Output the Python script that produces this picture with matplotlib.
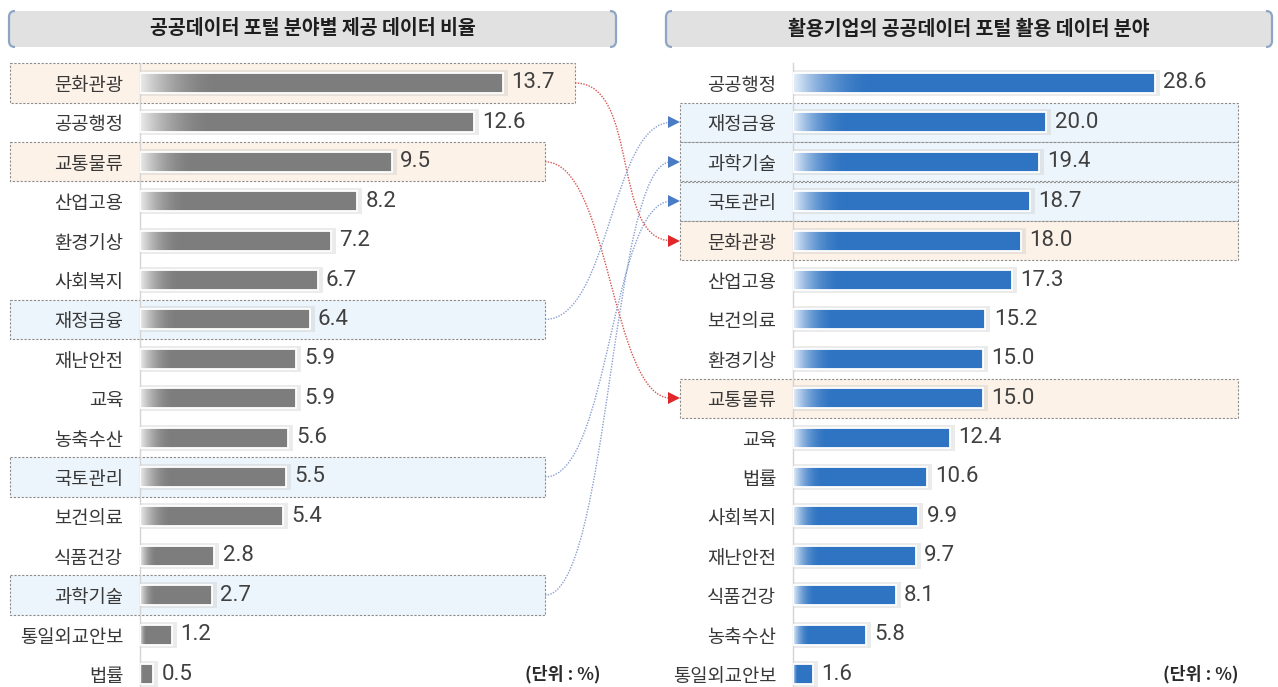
import numpy as np
import matplotlib
matplotlib.use('Agg')
import matplotlib.pyplot as plt
from matplotlib.patches import Rectangle, FancyBboxPatch, PathPatch
from matplotlib.path import Path
from matplotlib.colors import to_rgb

plt.rcParams['font.family'] = ['Noto Sans CJK KR', 'DejaVu Sans']

# ---------------- data ----------------
left_title = '공공데이터 포털 분야별 제공 데이터 비율'
right_title = '활용기업의 공공데이터 포털 활용 데이터 분야'
left_cats = ['문화관광', '공공행정', '교통물류', '산업고용', '환경기상', '사회복지', '재정금융', '재난안전',
             '교육', '농축수산', '국토관리', '보건의료', '식품건강', '과학기술', '통일외교안보', '법률']
left_vals = [13.7, 12.6, 9.5, 8.2, 7.2, 6.7, 6.4, 5.9, 5.9, 5.6, 5.5, 5.4, 2.8, 2.7, 1.2, 0.5]
right_cats = ['공공행정', '재정금융', '과학기술', '국토관리', '문화관광', '산업고용', '보건의료', '환경기상',
              '교통물류', '교육', '법률', '사회복지', '재난안전', '식품건강', '농축수산', '통일외교안보']
right_vals = [28.6, 20.0, 19.4, 18.7, 18.0, 17.3, 15.2, 15.0, 15.0, 12.4, 10.6, 9.9, 9.7, 8.1, 5.8, 1.6]
warm_cats = ['문화관광', '교통물류']
cool_cats = ['재정금융', '과학기술', '국토관리']
unit_label = '(단위 : %)'

# ---------------- layout ----------------
W, H = 1278, 687
PITCH = 39.4
TOP = 83 - PITCH / 2

fig = plt.figure(figsize=(W / 100, H / 100), dpi=100)
ov = fig.add_axes([0, 0, 1, 1], zorder=0)
ov.set_xlim(0, W)
ov.set_ylim(H, 0)
ov.axis('off')

VAL_FONT = ['Roboto', 'DejaVu Sans']


def make_axes(x0, w):
    ax = fig.add_axes([x0 / W, 0, w / W, (H - TOP) / H], zorder=1)
    ax.set_facecolor('none')
    for s in ['top', 'right', 'bottom']:
        ax.spines[s].set_visible(False)
    ax.spines['left'].set_color('#d4d4d4')
    ax.spines['left'].set_linewidth(1.0)
    ax.set_xticks([])
    return ax


def draw_bars(ax, cats, vals, color, start_color, ppu, w):
    y = np.arange(len(cats))
    ax.barh(y, [v + 6 / ppu for v in vals], height=0.66, left=-1 / ppu,
            color='#bdbdbd', alpha=0.3, zorder=1, linewidth=0)
    bars = ax.barh(y, vals, height=0.51, color=color, linewidth=0, zorder=2)
    c1 = np.array(to_rgb(color))
    c0 = np.array(to_rgb(start_color))
    t = np.linspace(0, 1, 256)[:, None]
    t = 1 - (1 - t) ** 2
    grad = (c0 * (1 - t) + c1 * t)[None, :, :]
    for b, v in zip(bars, vals):
        gw = 0.22 * v
        im = ax.imshow(grad, extent=(0, gw, b.get_y() + b.get_height(), b.get_y()),
                       aspect='auto', zorder=3, interpolation='bilinear')
        im.set_clip_path(b)
    ax.barh(y, vals, height=0.51, facecolor='none', edgecolor='white',
            linewidth=1.3, zorder=4)
    for i, v in enumerate(vals):
        ax.annotate(f'{v:.1f}', xy=(v, i), xytext=(6, 0), textcoords='offset points',
                    va='center', ha='left', fontsize=16, color='#404040',
                    family=VAL_FONT, zorder=5)
    ax.set_yticks(y, cats)
    ax.tick_params(axis='y', length=0, pad=12, labelsize=13.5, labelcolor='#383838')
    ax.set_xlim(0, w / ppu)
    ax.set_ylim(-0.5 + (H - TOP) / PITCH, -0.5)


L_PPU, R_PPU = 26.5, 12.66
axL = make_axes(140, 500)
axR = make_axes(793, 485)
draw_bars(axL, left_cats, left_vals, '#7d7d7d', '#ececec', L_PPU, 500)
draw_bars(axR, right_cats, right_vals, '#2f74c2', '#e8f0fa', R_PPU, 485)


def px(ax, x, y):
    dx, dy = ax.transData.transform((x, y))
    return dx, H - dy


WARM_FC, COOL_FC = '#fdf2e8', '#edf5fc'
WARM_LC, COOL_LC = '#d9534f', '#8a9fd0'
WARM_HC, COOL_HC = '#e0282a', '#4a7cc6'

# highlight boxes (left)
left_ends = {}
for i, (c, v) in enumerate(zip(left_cats, left_vals)):
    if c in warm_cats or c in cool_cats:
        endx, yc = px(axL, v, i)
        xr = max(545, endx + 72)
        left_ends[c] = (xr, yc)
        fc = WARM_FC if c in warm_cats else COOL_FC
        ov.add_patch(Rectangle((10, yc - PITCH / 2), xr - 10, PITCH, facecolor=fc,
                               edgecolor='#8c8c8c', linewidth=0.8, linestyle=(0, (2, 1.5))))
right_starts = {}
for i, (c, v) in enumerate(zip(right_cats, right_vals)):
    if c in warm_cats or c in cool_cats:
        _, yc = px(axR, v, i)
        right_starts[c] = (680, yc)
        fc = WARM_FC if c in warm_cats else COOL_FC
        ov.add_patch(Rectangle((680, yc - PITCH / 2), 1238 - 680, PITCH, facecolor=fc,
                               edgecolor='#8c8c8c', linewidth=0.8, linestyle=(0, (2, 1.5))))

# connector arrows
for c in warm_cats + cool_cats:
    x0, y0 = left_ends[c]
    x1, y1 = right_starts[c]
    lc = WARM_LC if c in warm_cats else COOL_LC
    hc = WARM_HC if c in warm_cats else COOL_HC
    xe = x1 - 9
    path = Path([(x0, y0), (x0 + 65, y0), (xe - 60, y1), (xe, y1)],
                [Path.MOVETO, Path.CURVE4, Path.CURVE4, Path.CURVE4])
    ov.add_patch(PathPatch(path, facecolor='none', edgecolor=lc, linewidth=1.0,
                           linestyle=(0, (1, 1)), zorder=2))
    ov.plot([x1 - 6], [y1], marker='>', markersize=8, color=hc, markeredgewidth=0, zorder=3)


# title boxes
def title_box(x0, x1, y0, y1, text):
    ov.add_patch(FancyBboxPatch((x0, y0), x1 - x0, y1 - y0,
                                boxstyle='round,pad=0,rounding_size=6',
                                facecolor='#e1e1e1', edgecolor='none', zorder=1))
    r = 6
    lb = Path([(x0 + r, y0), (x0, y0), (x0, y0 + r), (x0, y1 - r), (x0, y1), (x0 + r, y1)],
              [Path.MOVETO, Path.CURVE3, Path.CURVE3, Path.LINETO, Path.CURVE3, Path.CURVE3])
    rb = Path([(x1 - r, y0), (x1, y0), (x1, y0 + r), (x1, y1 - r), (x1, y1), (x1 - r, y1)],
              [Path.MOVETO, Path.CURVE3, Path.CURVE3, Path.LINETO, Path.CURVE3, Path.CURVE3])
    for p in (lb, rb):
        ov.add_patch(PathPatch(p, facecolor='none', edgecolor='#8ea5c4', linewidth=1.6, zorder=2))
    ov.text((x0 + x1) / 2, (y0 + y1) / 2, text, ha='center', va='center',
            fontsize=14, fontweight='bold', color='#1e1e1e', zorder=3)


title_box(9, 616, 11, 47, left_title)
title_box(666, 1272, 11, 47, right_title)

# unit labels
_, yl = px(axL, 0, len(left_cats) - 1)
ov.text(563, yl, unit_label, ha='center', va='center', fontsize=12.5, fontweight='bold', color='#2a2a2a')
_, yr = px(axR, 0, len(right_cats) - 1)
ov.text(1201, yr, unit_label, ha='center', va='center', fontsize=12.5, fontweight='bold', color='#2a2a2a')

fig.savefig('out.png', dpi=100)
